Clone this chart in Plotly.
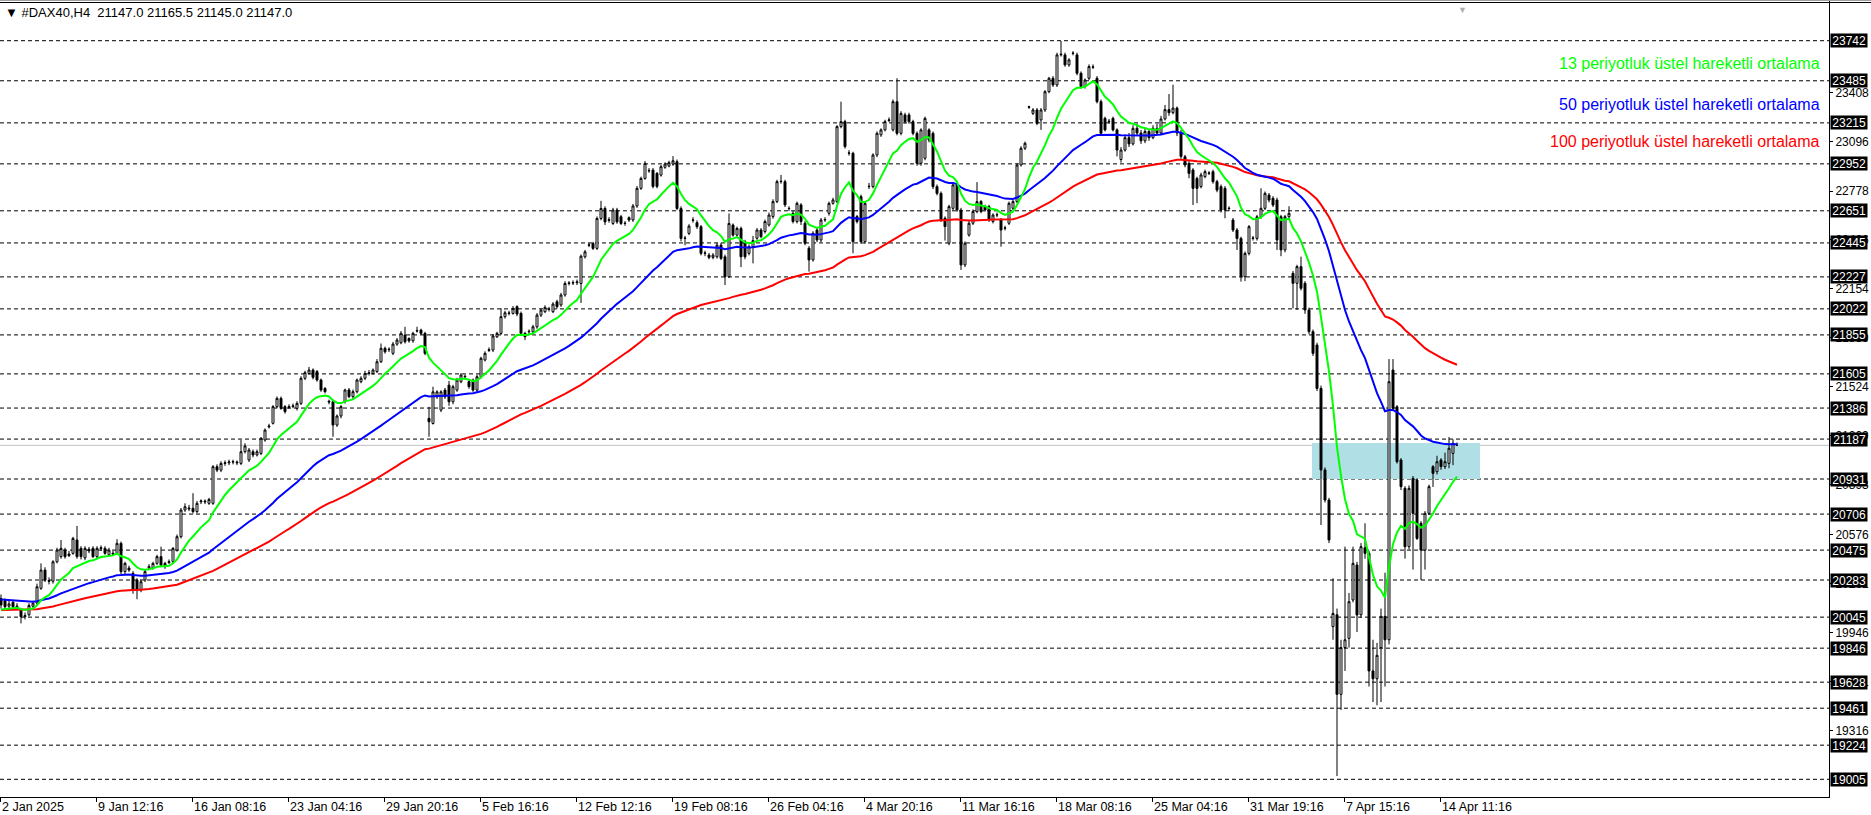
import plotly.graph_objects as go

# ---------------- DATA ----------------
opens = [
20165,20150,20115,20140,20110,20090,20048,20060,20115,20135,
20230,20347,20280,20275,20400,20433,20475,20440,20454,20540,
20486,20425,20480,20486,20433,20485,20486,20445,20455,20454,
20518,20337,20360,20326,20283,20219,20283,20360,20358,20390,
20433,20390,20395,20401,20475,20561,20732,20745,20743,20722,
20785,20790,20775,20775,21010,20988,21031,21035,21040,21040,
21031,21106,21053,21106,21085,21095,21181,21265,21288,21395,
21448,21395,21390,21395,21384,21416,21577,21608,21630,21620,
21566,21512,21430,21427,21277,21335,21427,21502,21459,21491,
21555,21577,21608,21608,21620,21683,21769,21760,21737,21796,
21805,21854,21832,21817,21880,21886,21865,21320,21287,21458,
21373,21501,21533,21426,21501,21555,21590,21555,21565,21501,
21587,21694,21755,21758,21843,21865,21972,21993,21993,22036,
21993,21865,21875,21875,21907,21982,22004,22020,22004,22068,
22047,22111,22185,22188,22190,22185,22356,22430,22442,22410,
22602,22666,22590,22570,22656,22613,22572,22607,22592,22682,
22795,22859,22910,22912,22891,22880,22930,22938,22951,22966,
22666,22474,22506,22590,22575,22549,22378,22367,22352,22356,
22431,22356,22228,22560,22495,22538,22452,22378,22421,22475,
22528,22518,22560,22614,22710,22838,22838,22667,22635,22582,
22689,22571,22411,22336,22528,22464,22592,22635,22699,22710,
23191,23223,23020,23020,22614,22742,22453,22806,22806,23009,
23138,23170,23230,23170,23351,23148,23266,23266,23223,23148,
22956,22988,23170,23148,22806,22763,22603,22443,22667,22817,
22656,22304,22496,22571,22646,22710,22678,22678,22582,22624,
22592,22539,22571,22667,22710,22945,23052,23315,23276,23298,
23234,23298,23415,23501,23458,23651,23651,23587,23660,23651,
23533,23448,23501,23572,23501,23351,23244,23223,23244,23170,
22980,23041,23120,23080,23180,23150,23100,23160,23120,23180,
23150,23240,23300,23280,23310,23150,22998,22955,22913,22859,
22806,22870,22891,22902,22838,22806,22795,22665,22592,22528,
22474,22229,22378,22474,22474,22613,22667,22752,22731,22720,
22613,22400,22613,22250,22186,22293,22186,22015,21876,21790,
21512,20989,20796,19984,20060,19550,19850,19909,20155,20379,
20060,20490,20454,19700,19650,19850,20050,19900,21630,21394,
21053,20871,20497,20935,20924,20647,20475,20711,21010,20978,
21053,21010,21031,21095,21147]
highs = [
20190,20165,20150,20155,20135,20100,20075,20135,20150,20260,
20390,20365,20300,20410,20490,20540,20490,20470,20560,20630,
20500,20500,20495,20500,20500,20505,20500,20490,20470,20545,
20530,20400,20375,20340,20295,20285,20350,20385,20400,20445,
20497,20400,20415,20495,20575,20745,20775,20765,20840,20790,
20800,20800,20810,21020,21025,21045,21050,21055,21055,21050,
21181,21160,21130,21120,21120,21200,21255,21285,21405,21460,
21460,21405,21410,21415,21430,21590,21625,21650,21640,21630,
21575,21520,21440,21440,21345,21405,21510,21515,21505,21575,
21590,21625,21630,21640,21700,21800,21780,21775,21810,21835,
21880,21907,21840,21875,21907,21895,21875,21394,21523,21500,
21500,21515,21560,21535,21580,21610,21600,21570,21575,21600,
21715,21750,21775,21860,21875,22025,22010,22010,22040,22045,
22005,21875,21890,21920,21995,22025,22045,22035,22065,22080,
22125,22200,22200,22205,22210,22370,22400,22445,22452,22615,
22715,22680,22610,22670,22670,22625,22585,22615,22695,22810,
22870,22970,22925,22925,22900,22945,22962,22972,23002,22980,
22680,22490,22565,22610,22590,22560,22395,22380,22380,22445,
22445,22370,22634,22570,22550,22550,22465,22435,22490,22540,
22540,22595,22640,22725,22850,22881,22850,22680,22650,22710,
22700,22585,22425,22520,22540,22605,22610,22710,22735,23200,
23351,23235,23040,23030,22625,22755,22710,22830,23020,23160,
23180,23235,23250,23365,23501,23290,23280,23280,23235,23160,
23180,23255,23180,23160,22820,22775,22615,22690,22830,22830,
22670,22455,22585,22660,22835,22720,22690,22690,22635,22640,
22605,22555,22710,22720,22955,23065,23095,23325,23310,23310,
23310,23425,23510,23515,23665,23740,23665,23630,23675,23665,
23545,23500,23590,23590,23515,23365,23255,23240,23255,23180,
23060,23140,23150,23200,23210,23170,23180,23175,23200,23210,
23260,23330,23400,23460,23320,23170,23010,22970,22925,22870,
22895,22915,22905,22915,22850,22820,22810,22680,22605,22540,
22485,22390,22560,22490,22625,22795,22775,22765,22745,22735,
22625,22625,22680,22265,22305,22357,22200,22030,21890,21805,
21530,21005,20810,20294,20100,19900,20497,20200,20497,20400,
20520,20647,20470,19900,19880,20100,20330,21700,21700,21405,
21065,20885,20890,20950,20935,20660,20725,20895,21020,21080,
21065,21100,21200,21185,21165.5]
lows = [
20100,20095,20100,20090,20095,20005,20030,20050,20105,20125,
20220,20270,20255,20260,20390,20420,20420,20430,20445,20420,
20415,20410,20455,20425,20425,20470,20445,20435,20440,20445,
20320,20320,20335,20195,20160,20205,20270,20350,20350,20380,
20370,20355,20385,20390,20465,20550,20720,20725,20710,20710,
20770,20770,20765,20765,20975,20975,21015,21020,21025,21020,
21020,21095,21040,21070,21075,21085,21170,21255,21280,21385,
21375,21350,21380,21385,21370,21405,21565,21600,21570,21555,
21490,21480,21410,21202,21265,21320,21415,21450,21445,21480,
21545,21565,21595,21600,21610,21675,21735,21745,21725,21785,
21795,21800,21805,21805,21870,21855,21725,21202,21280,21445,
21360,21445,21400,21410,21490,21545,21570,21510,21490,21490,
21575,21685,21745,21745,21835,21855,21960,21980,21985,21975,
21855,21822,21860,21865,21895,21970,21995,22005,21995,22025,
22035,22100,22172,22175,22175,22060,22345,22418,22400,22400,
22590,22560,22575,22560,22568,22560,22555,22580,22580,22670,
22785,22850,22895,22795,22795,22870,22920,22930,22940,22655,
22455,22430,22495,22575,22535,22365,22360,22340,22340,22345,
22335,22175,22220,22485,22485,22290,22340,22365,22314,22465,
22475,22505,22550,22600,22700,22825,22675,22650,22570,22570,
22560,22430,22261,22325,22450,22450,22580,22620,22690,22700,
23180,23050,23005,22379,22570,22440,22440,22790,22795,22995,
23125,23160,23220,23160,23135,23135,23210,23210,23135,22940,
22940,22975,23090,22790,22750,22580,22460,22430,22655,22645,
22272,22290,22485,22560,22635,22635,22645,22580,22570,22610,
22421,22525,22560,22655,22700,22935,23040,23305,23265,23200,
23170,23285,23405,23445,23445,23640,23575,23575,23648,23520,
23435,23435,23490,23560,23340,23135,23160,23210,23160,23000,
22960,23030,23060,23070,23130,23080,23085,23100,23110,23140,
23140,23230,23260,23270,23130,22985,22930,22860,22688,22700,
22795,22860,22880,22825,22770,22640,22603,22650,22515,22400,
22197,22200,22365,22460,22460,22600,22655,22705,22675,22400,
22360,22385,22600,22025,22015,22140,21990,21860,21720,21495,
20636,20780,20520,19900,19026,19450,19700,19850,20140,19950,
20040,20420,19600,19500,19480,19500,19600,19870,21370,21030,
20860,20420,20480,20350,20540,20283,20350,20700,20880,20960,
20990,20995,21000,21020,21145]
closes = [
20123,20112,20130,20112,20115,20048,20055,20120,20135,20240,
20347,20283,20275,20400,20475,20486,20433,20450,20550,20433,
20433,20486,20470,20433,20486,20490,20454,20475,20450,20518,
20337,20390,20347,20219,20219,20272,20337,20369,20390,20433,
20380,20369,20401,20486,20561,20732,20753,20740,20722,20775,
20790,20785,20800,21010,20988,21031,21035,21040,21042,21035,
21106,21143,21117,21085,21106,21192,21245,21270,21395,21448,
21384,21363,21395,21400,21416,21577,21613,21630,21583,21566,
21502,21491,21425,21277,21335,21395,21502,21459,21491,21566,
21577,21608,21612,21630,21683,21769,21747,21763,21796,21822,
21865,21811,21817,21865,21882,21865,21737,21298,21490,21490,
21490,21458,21426,21523,21565,21598,21587,21523,21501,21587,
21705,21737,21760,21848,21865,21972,21997,21995,22025,21989,
21865,21843,21878,21907,21982,22014,22032,22018,22053,22036,
22111,22185,22188,22190,22195,22360,22388,22432,22410,22602,
22666,22580,22594,22656,22580,22570,22570,22592,22682,22795,
22859,22955,22908,22807,22807,22934,22951,22960,22972,22666,
22474,22476,22553,22592,22549,22378,22380,22352,22367,22431,
22346,22228,22570,22495,22538,22356,22356,22421,22460,22528,
22485,22582,22624,22710,22838,22840,22689,22665,22582,22699,
22582,22443,22336,22507,22464,22592,22595,22699,22721,23191,
23223,23063,23022,22453,22582,22453,22699,22808,23009,23148,
23170,23223,23234,23351,23148,23276,23223,23223,23148,22956,
23170,23244,23105,22806,22763,22592,22550,22678,22817,22656,
22304,22443,22571,22646,22710,22646,22656,22592,22624,22626,
22528,22541,22699,22710,22945,23052,23084,23318,23298,23212,
23298,23415,23501,23458,23651,23655,23587,23619,23662,23533,
23448,23490,23576,23574,23351,23148,23170,23225,23170,23041,
23041,23120,23080,23180,23150,23100,23160,23120,23180,23150,
23240,23300,23280,23310,23150,23000,22945,22891,22795,22795,
22881,22902,22893,22838,22784,22656,22656,22667,22528,22474,
22229,22378,22549,22476,22613,22667,22763,22720,22688,22464,
22400,22613,22635,22186,22293,22154,22015,21876,21737,21512,
20989,20796,20540,20069,19550,19850,19900,20144,20390,20059,
20497,20454,19700,19650,19800,20050,19900,21555,21384,21042,
20882,20497,20871,20711,20550,20475,20711,20882,20967,21042,
21010,21042,21128,21160,21147]

ema13_start = 20090
ema50_start = 20160
ema100_start = 20090

date_labels = ["2 Jan 2025", "9 Jan 12:16", "16 Jan 08:16", "23 Jan 04:16",
               "29 Jan 20:16", "5 Feb 16:16", "12 Feb 12:16", "19 Feb 08:16",
               "26 Feb 04:16", "4 Mar 20:16", "11 Mar 16:16", "18 Mar 08:16",
               "25 Mar 04:16", "31 Mar 19:16", "7 Apr 15:16", "14 Apr 11:16"]
bars_per_label = 24

level_prices = [23742, 23485, 23215, 22952, 22651, 22445, 22227, 22022, 21855,
                21605, 21386, 21187, 20931, 20706, 20475, 20283, 20045, 19846,
                19628, 19461, 19224, 19005]
axis_tick_prices = [23408, 23096, 22778, 22466, 22154, 21839, 21524, 21209,
                    20893, 20576, 20261, 19946, 19631, 19316]
bid_price = 21147
zone_low, zone_high = 20931, 21162
zone_bar_start, zone_bar_end = 327.75, 369.75

header = "▼ #DAX40,H4  21147.0 21165.5 21145.0 21147.0"
ema_labels = [("13 periyotluk üstel hareketli ortalama", "#00FF00"),
              ("50 periyotluk üstel hareketli ortalama", "#0000FF"),
              ("100 periyotluk üstel hareketli ortalama", "#FF0000")]

# ---------------- helpers ----------------
def ema(values, period, start):
    k = 2.0 / (period + 1)
    out, e = [], start
    for v in values:
        e = e + k * (v - e)
        out.append(e)
    return out

x = list(range(len(closes)))
W, H = 1871, 815
ML, MR, MT, MB = 0, 42, 0, 18
PW, PH = W - ML - MR, H - MT - MB
YMIN, YMAX = 18891.5, 24003
XMIN = -0.25
XMAX = XMIN + PW / 4.0

fig = go.Figure()
fig.add_trace(go.Candlestick(
    x=x, open=opens, high=highs, low=lows, close=closes,
    increasing=dict(line=dict(color="black", width=1), fillcolor="white"),
    decreasing=dict(line=dict(color="black", width=1), fillcolor="black"),
    whiskerwidth=0, showlegend=False, hoverinfo="skip"))

for period, start, col in [(100, ema100_start, "#FF0000"),
                           (50, ema50_start, "#0000FF"),
                           (13, ema13_start, "#00FF00")]:
    fig.add_trace(go.Scatter(x=x, y=ema(closes, period, start), mode="lines",
                             line=dict(color=col, width=2), showlegend=False,
                             hoverinfo="skip"))

shapes = []
shapes.append(dict(type="rect", xref="x", yref="y", x0=zone_bar_start,
                   x1=zone_bar_end, y0=zone_low, y1=zone_high,
                   fillcolor="#B0DFE5", line=dict(width=0), layer="below"))
for p in level_prices:
    shapes.append(dict(type="line", xref="paper", yref="y", x0=0, x1=1,
                       y0=p, y1=p, line=dict(color="black", width=1,
                                             dash="4px,3px"), layer="below"))
shapes.append(dict(type="line", xref="paper", yref="y", x0=0, x1=1,
                   y0=bid_price, y1=bid_price,
                   line=dict(color="#C0C0C0", width=1), layer="below"))
# window top border
shapes.append(dict(type="line", xref="paper", yref="paper", x0=0, x1=1.03,
                   y0=1 - 0.5 / PH, y1=1 - 0.5 / PH,
                   line=dict(color="#A0A0A0", width=1)))
shapes.append(dict(type="line", xref="paper", yref="paper", x0=0, x1=1.03,
                   y0=1 - 2.5 / PH, y1=1 - 2.5 / PH,
                   line=dict(color="black", width=1)))

annotations = []
FONT = "Liberation Sans, Arial, sans-serif"
for p in level_prices:
    annotations.append(dict(xref="paper", yref="y", x=1, y=p, xanchor="left",
                            yanchor="middle", xshift=1, text=str(p),
                            showarrow=False, bgcolor="black",
                            font=dict(color="white", size=12, family=FONT),
                            width=34, height=11, borderpad=1, align="right"))
for i, lab in enumerate(date_labels):
    annotations.append(dict(xref="x", yref="paper", x=i * bars_per_label + XMIN,
                            y=0, yanchor="middle", xanchor="left", yshift=-10,
                            xshift=0, text=lab, showarrow=False,
                            font=dict(color="black", size=12.5, family=FONT)))
annotations.append(dict(xref="paper", yref="paper", x=0, y=1, xanchor="left",
                        yanchor="middle", xshift=3, yshift=-12, text=header,
                        showarrow=False,
                        font=dict(color="black", size=13, family=FONT)))
for j, (txt, col) in enumerate(ema_labels):
    annotations.append(dict(xref="paper", yref="paper", x=1, y=1,
                            xanchor="right", yanchor="middle", xshift=-7,
                            yshift=-(63 + 41 * j) + (j == 2) * 4, text=txt,
                            showarrow=False,
                            font=dict(color=col, size=16, family=FONT)))
annotations.append(dict(xref="paper", yref="paper", x=1462 / PW, y=1,
                        xanchor="center", yanchor="top", yshift=-1, text="▼",
                        showarrow=False, font=dict(color="#B0B0B0", size=9)))

fig.update_layout(
    width=W, height=H, margin=dict(l=ML, r=MR, t=MT, b=MB),
    paper_bgcolor="white", plot_bgcolor="white",
    shapes=shapes, annotations=annotations, showlegend=False,
    xaxis=dict(range=[XMIN, XMAX], showgrid=False, zeroline=False,
               showline=True, linecolor="black", linewidth=1,
               rangeslider=dict(visible=False),
               tickvals=[i * bars_per_label + XMIN for i in range(len(date_labels))],
               ticks="outside", ticklen=4, tickcolor="black",
               showticklabels=False, fixedrange=True),
    yaxis=dict(range=[YMIN, YMAX], side="right", showgrid=False,
               zeroline=False, showline=True, linecolor="black", linewidth=1,
               tickvals=axis_tick_prices,
               ticktext=[str(t) for t in axis_tick_prices],
               ticks="outside", ticklen=3, tickcolor="black",
               tickfont=dict(size=12, color="black", family=FONT),
               automargin=False, fixedrange=True),
)

fig.write_html("out.html", config={"displayModeBar": False},
               post_script="document.body.style.margin='0';"
                           "document.documentElement.style.overflow='hidden';")
